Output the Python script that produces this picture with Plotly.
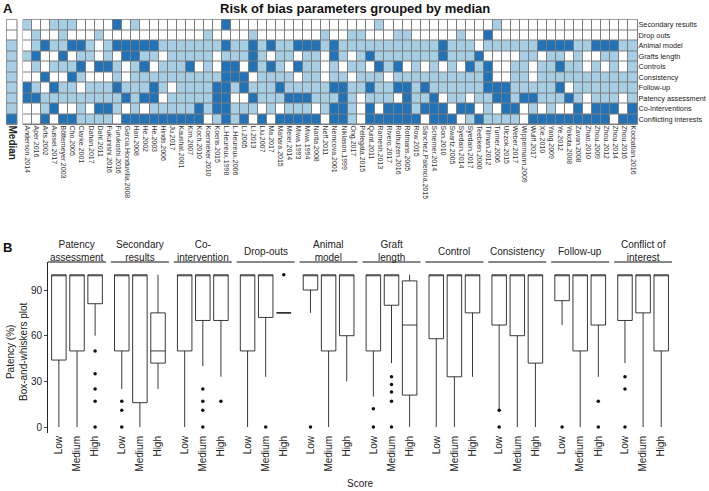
import plotly.graph_objects as go

W, H = 709, 491
def fx(p): return p / W
def fy(p): return 1 - p / H

FONT = "Liberation Sans, Arial, sans-serif"
LIGHT = "#a6cfe6"
DARK = "#2172b6"
GRID = "#7d7d7d"

# ---------------- Panel A data ----------------
studies = ["Anderson.2014", "Aper.2016", "Arts.2002", "Aussel.2017", "Böttemeyer.2003", "Cho.2005",
           "Clarke.2001", "Dahan.2017", "Dahl.2011", "Fukunishi.2016", "Furukoshi.2016",
           "Garcia.Honduvilla.2008", "Han.2008", "He.2002", "He.2003", "Hinds.2006", "Ju.2017",
           "Kaushal.2001", "Kim.2007", "Koch.2010", "Koenneker.2010", "Koens.2015", "L.Heureux.1998",
           "L.Heureux.2006", "Li.2005", "Li.2013", "Liu.2007", "Ma.2017", "Mahara.2015", "Meier.2014",
           "Miwa.1993", "Miwa.1994", "Narita.2008", "Neff.2011", "Nemcova.2001", "Niklason.1999",
           "Ong.2017", "Pellegata.2015", "Quint.2011", "Ramesh.2013", "Rivero.2017", "Rothuizen.2016",
           "Rotmans.2005", "Row.2015", "Sánchez.Palencia.2015", "Scherner.2014", "Son.2010",
           "Swartz.2005", "Syedain.2014", "Syedain.2017", "Teebken.2000", "Tillman.2012",
           "Turner.2006", "Ulczok.2015", "Weber.2017", "Wippermann.2009", "Wulff.2017", "Xie.2010",
           "Yang.2009", "Ye.2012", "Yokota.2008", "Zavan.2008", "Zhao.2010", "Zhou.2009", "Zhou.2012",
           "Zhou.2014", "Zhou.2016", "Koobatian.2016"]

parameters = ["Secondary results", "Drop outs", "Animal model", "Grafts length", "Controls",
              "Consistency", "Follow-up", "Patency assessment", "Co-interventions",
              "Conflicting interests"]

# 0 = low risk (white), 1 = medium (light blue), 2 = high (dark blue)
secondary_results = [1,0,0,1,1,1,0,0,0,0,2,0,1,0,0,0,0,0,0,0,0,0,2,0,
                     0,0,0,0,0,0,0,0,0,0,0,0,0,0,0,1,0,0,0,0,0,0,0,0,
                     0,0,0,0,1,0,0,0,0,0,0,0,0,0,0,0,0,0,0,0]
drop_outs = [0,1,0,0,1,0,0,0,1,0,0,0,0,0,0,0,0,0,0,0,1,0,0,0,
             0,1,0,0,0,0,0,0,0,1,0,0,1,1,0,0,0,1,1,0,0,0,0,0,
             1,0,0,2,0,0,0,0,0,0,0,0,0,0,0,0,0,0,0,0]
animal_model = [0,1,2,1,1,2,2,1,0,1,2,2,2,2,2,1,1,1,1,1,1,1,2,1,
                1,2,1,2,1,1,2,2,2,1,2,1,1,1,1,1,1,1,1,1,1,1,2,1,
                1,1,0,1,1,1,1,1,1,2,2,2,2,1,1,2,2,2,1,1]
grafts_length = [1,2,0,0,2,0,1,1,0,1,0,2,2,1,1,0,1,1,1,1,1,0,1,1,
                 1,2,1,0,1,1,0,1,1,0,2,1,0,1,2,1,1,1,1,1,1,1,2,1,
                 1,1,2,0,0,0,0,1,1,0,1,1,0,1,0,0,1,1,0,1]
controls = [0,1,0,1,1,1,2,0,2,2,1,0,1,2,0,1,1,1,2,0,1,0,2,2,
            0,2,1,2,1,0,2,1,1,0,1,0,1,1,0,2,1,2,0,1,0,1,0,1,
            0,2,1,2,0,0,1,1,0,1,1,2,1,1,0,1,0,1,0,1]
consistency = [0,0,2,0,0,2,1,0,0,0,1,0,1,1,1,1,1,1,1,1,1,1,2,2,
               2,0,1,1,1,1,0,1,1,0,1,1,0,1,1,1,0,1,1,1,1,1,1,1,
               1,1,1,2,0,0,1,1,0,1,1,1,1,1,1,1,1,1,1,1]
follow_up = [2,1,0,2,1,1,0,1,1,1,2,1,1,1,2,1,0,1,1,1,1,2,2,1,
             2,1,1,1,2,1,1,1,1,1,2,2,1,1,2,1,1,2,2,1,2,1,1,1,
             1,1,1,2,2,2,1,1,1,1,1,2,0,1,1,1,1,1,1,1]
patency_assessment = [2,2,1,1,1,1,1,1,1,1,1,2,1,2,2,0,1,1,1,1,1,2,2,0,
                      0,2,1,1,1,2,2,2,1,1,1,2,1,0,1,1,1,0,2,1,1,2,0,1,
                      1,0,1,1,2,2,1,2,2,1,1,1,2,1,0,1,1,1,0,1]
co_interventions = [0,0,1,2,0,0,1,0,2,2,1,0,1,0,1,1,1,1,1,2,1,2,2,1,
                    1,1,0,1,0,1,1,1,0,1,2,2,1,0,2,0,2,2,2,1,2,2,2,0,
                    2,2,0,1,0,2,2,0,1,0,1,0,0,2,0,2,2,2,0,2]
conflicting_interests = [0,0,2,0,2,2,1,1,1,1,0,2,2,2,2,2,2,2,2,2,0,1,2,1,
                         2,0,2,0,2,2,2,2,2,0,2,2,1,0,2,2,2,2,2,2,0,2,2,2,
                         0,1,2,1,1,1,1,0,2,2,2,2,2,2,2,2,2,0,2,2]
median_scores = [0, 0, 1, 1, 1, 1, 1, 1, 1, 2]

risk_rows = [secondary_results, drop_outs, animal_model, grafts_length, controls,
             consistency, follow_up, patency_assessment, co_interventions, conflicting_interests]

# ---------------- Panel B data ----------------
facet_titles = ["Patency<br>assessment", "Secondary<br>results", "Co-<br>intervention", "Drop-outs",
                "Animal<br>model", "Graft<br>length", "Control", "Consistency", "Follow-up",
                "Conflict of<br>interest"]
score_levels = ["Low", "Medium", "High"]
box_lower = [[0, 0, 60], [25, 0, 25], [0, 40, 33], [0, 33, 75], [75, 0, 30],
             [20, 42, 0], [0, 0, 33], [10, 0, 0], [67, 0, 33], [42, 0, 0]]
box_q1 = [[44, 50, 81], [50, 16, 42], [50, 70, 70], [50, 72, 75], [90, 50, 60],
          [50, 80, 21], [58, 33, 75], [67, 60, 42], [83, 50, 67], [70, 75, 50]]
box_median = [[100, 100, 100], [100, 100, 50], [100, 100, 100], [100, 100, 75], [100, 100, 100],
              [100, 100, 67], [100, 100, 100], [100, 100, 100], [100, 100, 100], [100, 100, 100]]
box_q3 = [[100, 100, 100], [100, 100, 75], [100, 100, 100], [100, 100, 75], [100, 100, 100],
          [100, 100, 96], [100, 100, 100], [100, 100, 100], [100, 100, 100], [100, 100, 100]]
box_upper = [[100, 100, 100], [100, 100, 100], [100, 100, 100], [100, 100, 75], [100, 100, 100],
             [100, 100, 100], [100, 100, 100], [100, 100, 100], [100, 100, 100], [100, 100, 100]]
outliers = [
    [[], [], [50, 35, 25, 17, 0]],
    [[17, 11, 0], [], []],
    [[], [25, 17, 11, 0], [17]],
    [[], [0], [100]],
    [[0], [], []],
    [[12, 0], [33, 28, 23, 17, 0], []],
    [[], [], []],
    [[11, 0], [], []],
    [[0], [], [17, 0]],
    [[33, 25, 0], [], []],
]
y_ticks = [0, 30, 60, 90]

fig = go.Figure()

# ---- Panel A heatmap ----
cs = [[0, "#ffffff"], [0.333, "#ffffff"], [0.333, LIGHT], [0.667, LIGHT], [0.667, DARK], [1, DARK]]
fig.add_trace(go.Heatmap(z=risk_rows, x=list(range(len(studies))), y=list(range(len(parameters))),
                         zmin=0, zmax=2, colorscale=cs, showscale=False, xgap=1, ygap=1,
                         xaxis="x", yaxis="y", hoverinfo="skip"))
fig.add_trace(go.Heatmap(z=[[v] for v in median_scores], x=[0], y=list(range(len(parameters))),
                         zmin=0, zmax=2, colorscale=cs, showscale=False, xgap=1, ygap=1,
                         xaxis="x2", yaxis="y2", hoverinfo="skip"))

hm_top, hm_bot = 19.5, 124.5
layout = dict(
    width=W, height=H, margin=dict(l=0, r=0, t=0, b=0, pad=0, autoexpand=False),
    paper_bgcolor="white", plot_bgcolor="rgba(0,0,0,0)", showlegend=False,
    font=dict(family=FONT, color="#222"),
    xaxis=dict(domain=[fx(23), fx(637.5)], range=[-0.5, len(studies) - 0.5],
               tickmode="array", tickvals=list(range(len(studies))), ticktext=studies,
               tickangle=90, tickfont=dict(size=7, color="#333"), ticks="", showgrid=False,
               zeroline=False, anchor="y", automargin=False),
    yaxis=dict(domain=[fy(hm_bot), fy(hm_top)], range=[len(parameters) - 0.5, -0.5],
               tickmode="array", tickvals=list(range(len(parameters))), ticktext=parameters,
               side="right", tickfont=dict(size=7.3, color="#222"), ticks="", showgrid=False,
               zeroline=False, anchor="x", automargin=False),
    xaxis2=dict(domain=[fx(6.5), fx(17)], range=[-0.5, 0.5], tickmode="array", tickvals=[0],
                ticktext=["<b>Median</b>"], tickangle=90, tickfont=dict(size=10, color="#222"),
                ticks="", showgrid=False, zeroline=False, anchor="y2", automargin=False),
    yaxis2=dict(domain=[fy(hm_bot), fy(hm_top)], range=[len(parameters) - 0.5, -0.5],
                showticklabels=False, ticks="", showgrid=False, zeroline=False, anchor="x2",
                automargin=False),
)

shapes = []
for xr, yr in (("x domain", "y domain"), ("x2 domain", "y2 domain")):
    shapes.append(dict(type="rect", xref=xr, yref=yr, x0=0, x1=1, y0=0, y1=1,
                       fillcolor=GRID, line=dict(color=GRID, width=1), layer="below"))

# ---- Panel B boxes ----
b_top, b_bot = 262, 433
y_range = [-3.9, 108.4]
f0, fstep, fwidth = 48, 62.9, 58
annotations = []
for k in range(len(facet_titles)):
    ax = k + 3
    xa, ya = f"x{ax}", f"y{ax}"
    x0p = f0 + fstep * k
    layout[f"xaxis{ax}"] = dict(domain=[fx(x0p), fx(x0p + fwidth)], range=[-0.6, 2.6],
                                type="category", categoryorder="array", categoryarray=score_levels,
                                tickangle=-90, tickfont=dict(size=10, color="#222"), ticks="",
                                showgrid=False, zeroline=False, showline=False, anchor=ya,
                                automargin=False)
    layout[f"yaxis{ax}"] = dict(domain=[fy(b_bot), fy(b_top)], range=y_range, showgrid=False,
                                zeroline=False, anchor=xa, automargin=False,
                                showticklabels=(k == 0), tickvals=y_ticks,
                                tickfont=dict(size=10, color="#222"),
                                ticks="outside" if k == 0 else "", ticklen=3,
                                showline=(k == 0), linecolor="#222", linewidth=1)
    fig.add_trace(go.Box(x=score_levels, q1=box_q1[k], median=box_median[k], q3=box_q3[k],
                         lowerfence=box_lower[k], upperfence=box_upper[k],
                         fillcolor="white", line=dict(color="#222", width=0.9),
                         whiskerwidth=0, width=0.8, boxpoints=False,
                         xaxis=xa, yaxis=ya, hoverinfo="skip"))
    ox, oy = [], []
    for j, lvl in enumerate(score_levels):
        for v in outliers[k][j]:
            ox.append(lvl)
            oy.append(v)
    if ox:
        fig.add_trace(go.Scatter(x=ox, y=oy, mode="markers", marker=dict(color="#111", size=3.5),
                                 xaxis=xa, yaxis=ya, hoverinfo="skip"))
    shapes.append(dict(type="line", xref=f"{xa} domain", yref="paper", x0=0, x1=1,
                       y0=fy(b_top), y1=fy(b_top), line=dict(color="#111", width=1.2)))
    annotations.append(dict(text=facet_titles[k], xref="paper", yref="paper",
                            x=fx(x0p + fwidth / 2), y=fy(251), xanchor="center", yanchor="middle",
                            showarrow=False, font=dict(size=10, color="#222")))

annotations += [
    dict(text="<b>A</b>", xref="paper", yref="paper", x=fx(1), y=fy(9), xanchor="left",
         yanchor="middle", showarrow=False, font=dict(size=13, color="#111")),
    dict(text="<b>Risk of bias parameters grouped by median</b>", xref="paper", yref="paper",
         x=fx(355), y=fy(9), xanchor="center", yanchor="middle", showarrow=False,
         font=dict(size=13, color="#111")),
    dict(text="<b>B</b>", xref="paper", yref="paper", x=fx(1), y=fy(247), xanchor="left",
         yanchor="middle", showarrow=False, font=dict(size=13, color="#111")),
    dict(text="Patency (%)<br>Box-and-whiskers plot", xref="paper", yref="paper", x=fx(17),
         y=fy(352), xanchor="center", yanchor="middle", textangle=-90, showarrow=False,
         font=dict(size=10, color="#222")),
    dict(text="Score", xref="paper", yref="paper", x=fx(360), y=fy(483), xanchor="center",
         yanchor="middle", showarrow=False, font=dict(size=10, color="#222")),
]

layout["shapes"] = shapes
layout["annotations"] = annotations
fig.update_layout(**layout)
fig.write_html("out.html", config={"displayModeBar": False},
               post_script="document.body.style.margin='0';document.body.style.overflow='hidden';")
